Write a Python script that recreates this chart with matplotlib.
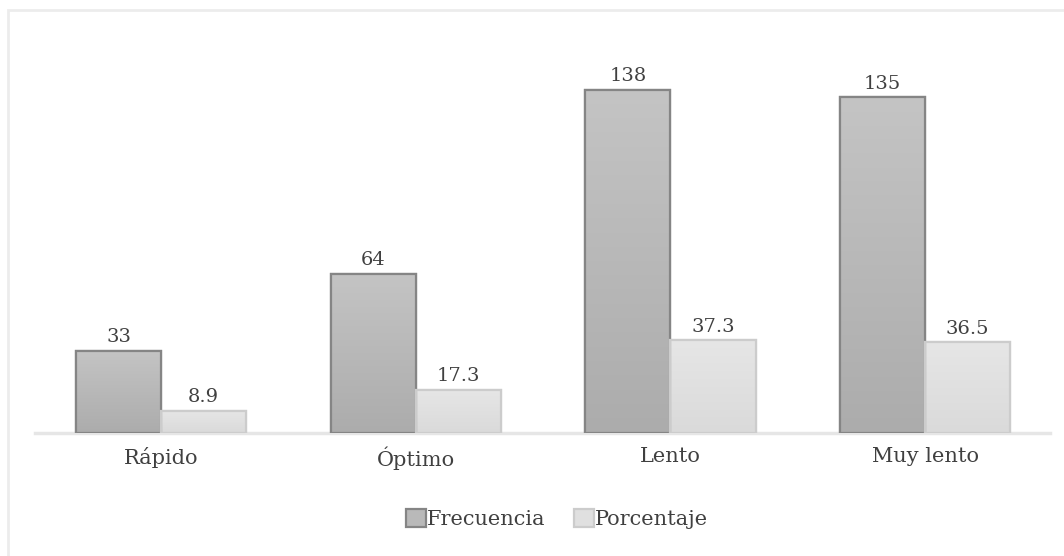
import matplotlib
matplotlib.use("Agg")
import matplotlib.pyplot as plt
import numpy as np
from matplotlib.patches import Rectangle
from matplotlib.colors import LinearSegmentedColormap

categories = ["Rápido", "Óptimo", "Lento", "Muy lento"]
frecuencia = [33, 64, 138, 135]
porcentaje = [8.9, 17.3, 37.3, 36.5]
series_names = ["Frecuencia", "Porcentaje"]
freq_labels = ["33", "64", "138", "135"]
pct_labels = ["8.9", "17.3", "37.3", "36.5"]

plt.rcParams['font.family'] = ['DejaVu Serif']

fig = plt.figure(figsize=(10.64, 5.56), dpi=100)
W, H = 1064, 556
# outer light border
fig.add_artist(Rectangle((8 / W, -0.01), 1.05, (556 - 10) / H + 0.01, transform=fig.transFigure,
                         fill=False, edgecolor="#ececec", linewidth=2))

ax_left, ax_right = 35 / W, 1050 / W
ax_bottom = (H - 433) / H
ax_top = (H - 40) / H
ax = fig.add_axes([ax_left, ax_bottom, ax_right - ax_left, ax_top - ax_bottom])

x = np.arange(len(categories))
w = 0.334
b1 = ax.bar(x - w / 2, frecuencia, w, color="#b9b9b9", edgecolor="#858585", linewidth=1.6,
            label=series_names[0], zorder=3)
b2 = ax.bar(x + w / 2, porcentaje, w, color="#e0e0e0", edgecolor="#cccccc", linewidth=1.6,
            label=series_names[1], zorder=3)

ax.set_xlim(-0.495, 3.49)
ax.set_ylim(0, 158)

# subtle vertical gradient inside each bar, clipped to the bar patch
cm1 = LinearSegmentedColormap.from_list("g1", ["#acacac", "#c4c4c4"])
cm2 = LinearSegmentedColormap.from_list("g2", ["#dadada", "#e6e6e6"])
grad = np.linspace(0, 1, 256).reshape(-1, 1)
for bars, cm in ((b1, cm1), (b2, cm2)):
    for rect in bars:
        x0, y0 = rect.get_x(), rect.get_y()
        im = ax.imshow(grad, cmap=cm, origin="lower", aspect="auto",
                       extent=(x0, x0 + rect.get_width(), y0, y0 + rect.get_height()),
                       zorder=3.5)
        im.set_clip_path(rect)
        edge = Rectangle((x0, y0), rect.get_width(), rect.get_height(), fill=False,
                         edgecolor=rect.get_edgecolor(), linewidth=1.6, zorder=4)
        ax.add_patch(edge)

for rect, lab in zip(b1, freq_labels):
    ax.text(rect.get_x() + rect.get_width() / 2, rect.get_height() + 1.8, lab,
            ha="center", va="bottom", fontsize=14, color="#404040")
for rect, lab in zip(b2, pct_labels):
    ax.text(rect.get_x() + rect.get_width() / 2, rect.get_height() + 1.8, lab,
            ha="center", va="bottom", fontsize=14, color="#404040")

ax.set_xlim(-0.495, 3.49)
ax.set_ylim(0, 158)
ax.set_xticks(x)
ax.set_xticklabels(categories, fontsize=15, color="#404040")
ax.tick_params(axis="x", length=0, pad=10)
ax.set_yticks([])
for s in ["top", "right", "left"]:
    ax.spines[s].set_visible(False)
ax.spines["bottom"].set_color("#e6e6e6")
ax.spines["bottom"].set_linewidth(2.5)

leg = fig.legend(handles=[b1, b2], labels=series_names, loc="center",
                 bbox_to_anchor=(557 / W, 1 - 519 / H), ncol=2, frameon=False,
                 fontsize=15, handlelength=0.95, handleheight=0.95, handletextpad=0.05,
                 columnspacing=1.35, labelcolor="#404040")

fig.savefig("out.png", dpi=100, facecolor="white")
